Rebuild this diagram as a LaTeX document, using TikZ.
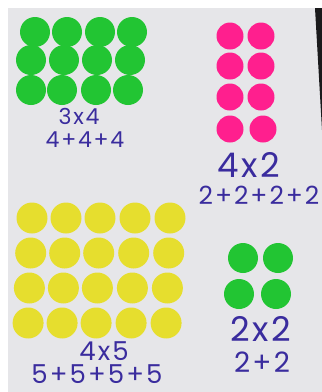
\documentclass[tikz,border=0pt]{standalone}
\usepackage{fontspec}
\setmainfont{Poppins}
\usetikzlibrary{calc}
\definecolor{paper}{HTML}{E6E6E9}
\definecolor{dotgreen}{HTML}{22C533}
\definecolor{dotpink}{HTML}{FF1F8E}
\definecolor{dotyellow}{HTML}{E6DE2E}
\definecolor{ink}{HTML}{3A2C9E}
\definecolor{edge}{HTML}{1A1A1C}
\tikzset{
  dot/.style={circle, inner sep=0pt, minimum size=#1*2pt, draw=none},
  gdot/.style={dot=15, fill=dotgreen},
  pdot/.style={dot=13.5, fill=dotpink},
  ydot/.style={dot=15.5, fill=dotyellow},
  inktext/.style={text=ink, inner sep=0pt, text height={#1*0.7pt}, text depth=0pt,
    font=\fontsize{#1}{#1}\selectfont\addfontfeature{LetterSpace=8}},
}
\begin{document}
\begin{tikzpicture}[x={(1pt,0)}, y={(0,-1pt)}]
\useasboundingbox (0,0) rectangle (322,392);
\fill[white] (0,0) rectangle (322,392);
\fill[paper] (8,8) rectangle (322,392);
\fill[edge] (315,8) -- (322,8) -- (322,130) -- cycle;
% green 3x4
\foreach \x [count=\c] in {35,67,100,132} \node[gdot] (ga1\c) at (\x,32) {};
\foreach \x [count=\c] in {31,64,97,130} \node[gdot] (ga2\c) at (\x,60) {};
\foreach \x [count=\c] in {31,62,96,128} \node[gdot] (ga3\c) at (\x,90) {};
\node[inktext=22] (t1) at (79,117) {3x4};
\node[inktext=22] (t2) at (85,140) {4+4+4};
% pink 4x2
\foreach \y [count=\r] in {36,66,97} {
  \node[pdot] (p\r1) at (230,\y) {};
  \node[pdot] (p\r2) at (261,\y) {};
}
\node[pdot] (p41) at (230,129) {};
\node[pdot] (p42) at (263,129) {};
\node[inktext=34] (t3) at (249,166) {4x2};
\node[inktext=25] (t4) at (259,196) {2+2+2+2};
% yellow 4x5
\foreach \y [count=\r] in {218,253,288,323} {
  \foreach \x [count=\c] in {32,66,100,135,170} {
    \node[ydot] (y\r\c) at ({\x-(\r-1)*1.3},\y) {};
  }
}
\node[inktext=26] (t5) at (104,351) {4x5};
\node[inktext=26] (t6) at (97,374) {5+5+5+5};
% green 2x2
\node[gdot] (gb11) at (243,258) {};
\node[gdot] (gb12) at (278,258) {};
\node[gdot] (gb21) at (239,294) {};
\node[gdot] (gb22) at (276,294) {};
\node[inktext=34] (t7) at (261,330) {2x2};
\node[inktext=28] (t8) at (262,363) {2+2};
\end{tikzpicture}
\end{document}
